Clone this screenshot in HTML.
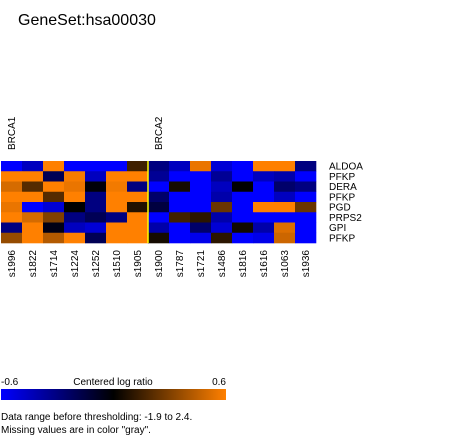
<!DOCTYPE html>
<html><head><meta charset="utf-8"><style>
body{margin:0;background:#fff;width:450px;height:438px;overflow:hidden;font-family:"Liberation Sans",sans-serif}
svg text{font-family:"Liberation Sans",sans-serif}
</style></head><body>
<svg id="c" width="450" height="438">
<defs><linearGradient id="g"><stop offset="0" stop-color="#0000ff"/><stop offset="0.5" stop-color="#000"/><stop offset="1" stop-color="#ff8000"/></linearGradient></defs>
<text x="18" y="25" font-size="16">GeneSet:hsa00030</text>
<g id="cells"></g>
<rect x="1" y="389" width="225" height="11" fill="url(#g)"/>
<text x="1" y="385" font-size="10">-0.6</text>
<text x="113" y="385" font-size="10" text-anchor="middle">Centered log ratio</text>
<text x="226" y="385" font-size="10" text-anchor="end">0.6</text>
<text x="1" y="420" font-size="10">Data range before thresholding: -1.9 to 2.4.</text>
<text x="1" y="433" font-size="10">Missing values are in color "gray".</text>
</svg>
<script>
const samples=["s1996","s1822","s1714","s1224","s1252","s1510","s1905","s1900","s1787","s1721","s1486","s1816","s1616","s1063","s1936"];
const genes=["ALDOA","PFKP","DERA","PFKP","PGD","PRPS2","GPI","PFKP"];
const groups=["BRCA1","BRCA2"];
const groupStarts=[0,7];
const values=[
[-0.6,-0.45,0.6,-0.6,-0.6,-0.6,0.15,-0.3,-0.45,0.55,-0.5,-0.6,0.6,0.6,-0.3],
[0.6,0.6,-0.2,0.58,-0.45,0.6,0.6,-0.35,-0.6,-0.6,-0.35,-0.6,-0.45,-0.4,-0.6],
[0.5,0.2,0.6,0.55,-0.02,0.57,-0.3,-0.6,0.05,-0.6,-0.45,0,-0.6,-0.25,-0.3],
[0.6,0.6,0.2,0.6,-0.3,0.6,0.6,-0.25,-0.6,-0.6,-0.4,-0.6,-0.6,-0.45,-0.6],
[0.55,-0.6,-0.5,0,-0.3,0.6,0.08,-0.15,-0.6,-0.6,0.25,-0.6,0.6,0.6,0.25],
[0.6,0.5,0.3,-0.3,-0.2,-0.3,0.6,-0.6,0.15,0.1,-0.4,-0.6,-0.6,-0.6,-0.6],
[-0.3,0.6,-0.05,-0.45,-0.5,0.6,0.6,-0.4,-0.6,-0.25,-0.5,0.04,-0.4,0.52,-0.6],
[0.35,0.6,0.42,0.6,-0.2,0.6,0.6,0.05,-0.6,-0.55,0.1,-0.6,-0.55,0.48,-0.6]];
const NS="http://www.w3.org/2000/svg";
const svg=document.getElementById('c'),g=document.getElementById('cells');
const x0=1,cw=21,y0=161,rh=10.25;
const xs=i=>x0+i*cw, ys=j=>y0+j*rh;
function col(v){const t=Math.max(-1,Math.min(1,v/0.6));
if(t<0)return `rgb(0,0,${Math.round(-t*255)})`;return `rgb(${Math.round(t*255)},${Math.round(t*128)},0)`;}
function mk(tag,a,p){const e=document.createElementNS(NS,tag);for(const k in a)e.setAttribute(k,a[k]);(p||svg).appendChild(e);return e;}
values.forEach((row,j)=>row.forEach((v,i)=>{
const r=mk('rect',{x:xs(i),y:ys(j),width:cw+0.3,height:rh+0.3,fill:col(v)},g);


}));
genes.forEach((n,j)=>{const t=mk('text',{x:329,y:ys(j)+rh/2+3.5,'font-size':10});t.textContent=n;

});
samples.forEach((n,i)=>{const cx=xs(i)+cw/2+3.5;const t=mk('text',{x:0,y:0,'font-size':10,'text-anchor':'end',transform:`translate(${cx},250) rotate(-90)`});t.textContent=n;

});
groups.forEach((n,k)=>{const cx=xs(groupStarts[k])+cw/2+3.5;const t=mk('text',{x:0,y:0,'font-size':10,transform:`translate(${cx},150) rotate(-90)`});t.textContent=n;

});
const sep=mk('line',{x1:xs(7),x2:xs(7),y1:y0,y2:ys(genes.length),stroke:'#ffff00','stroke-width':1.5});


</script>
</body></html>
